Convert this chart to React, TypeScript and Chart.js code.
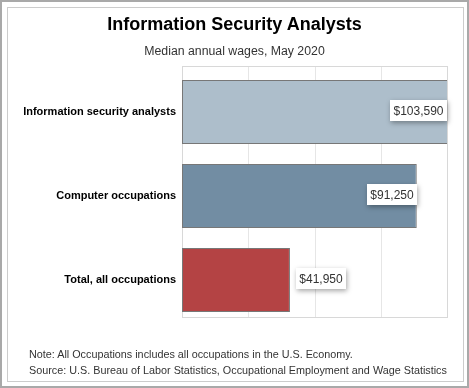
import React, { useEffect, useRef } from "react";
import { Chart, registerables } from "chart.js";

Chart.register(...registerables);

const categories = ["Information security analysts", "Computer occupations", "Total, all occupations"];
const wages = [103590, 91250, 41950];
const barColors = ["#adbecb", "#728da3", "#b44344"];
const axisMax = 103000;
const title = "Information Security Analysts";
const subtitle = "Median annual wages, May 2020";
const notes = [
  "Note: All Occupations includes all occupations in the U.S. Economy.",
  "Source: U.S. Bureau of Labor Statistics, Occupational Employment and Wage Statistics",
];

const fmt = (v: number) => "$" + v.toLocaleString("en-US");

const labelPlugin = {
  id: "valueBoxes",
  afterDatasetsDraw(chart: any) {
    const ctx = chart.ctx;
    const area = chart.chartArea;
    const meta = chart.getDatasetMeta(0);
    ctx.save();
    ctx.font = "12px 'Liberation Sans', Arial, sans-serif";
    meta.data.forEach((bar: any, i: number) => {
      const text = fmt(wages[i]);
      const tw = ctx.measureText(text).width;
      const w = Math.round(tw + 7);
      const h = 21;
      const end = Math.min(bar.x, area.right);
      let x = end + 6;
      if (x + w > area.right) x = end - w;
      const y = Math.round(bar.y - 2 - h / 2);
      ctx.save();
      ctx.shadowColor = "rgba(0,0,0,0.35)";
      ctx.shadowBlur = 5;
      ctx.shadowOffsetX = 1;
      ctx.shadowOffsetY = 2;
      ctx.fillStyle = "#ffffff";
      ctx.fillRect(Math.round(x), y, w, h);
      ctx.restore();
      ctx.fillStyle = "#333333";
      ctx.textBaseline = "middle";
      ctx.textAlign = "center";
      ctx.fillText(text, Math.round(x) + w / 2, y + h / 2 + 1);
    });
    ctx.restore();
  },
};

const frame = {
  id: "plotFrame",
  beforeDatasetsDraw(chart: any) {
    const { ctx, chartArea: a } = chart;
    const xs = chart.scales.x;
    const top = Math.round(a.top) - 4;
    const bottom = Math.round(a.bottom) - 5;
    ctx.save();
    ctx.lineWidth = 1;
    ctx.strokeStyle = "#e6e6e6";
    xs.ticks.forEach((t: any) => {
      const px = Math.round(xs.getPixelForValue(t.value)) + 0.5;
      ctx.beginPath();
      ctx.moveTo(px, top);
      ctx.lineTo(px, bottom);
      ctx.stroke();
    });
    ctx.strokeStyle = "#d8d8d8";
    ctx.strokeRect(Math.round(a.left) + 0.5, top + 0.5, Math.round(a.right - a.left), bottom - top);
    ctx.restore();
  },
};

export default function App() {
  const ref = useRef<HTMLCanvasElement>(null);
  useEffect(() => {
    const chart = new Chart(ref.current!, {
      type: "bar",
      data: {
        labels: categories,
        datasets: [
          {
            data: wages,
            backgroundColor: barColors,
            borderColor: "#777777",
            borderWidth: 1,
            borderSkipped: false,
            categoryPercentage: 1,
            barPercentage: 0.762,
          },
        ],
      },
      options: {
        indexAxis: "y",
        animation: false,
        responsive: false,
        maintainAspectRatio: false,
        layout: { padding: { left: 8, right: 22, top: 70, bottom: 66 } },
        plugins: { legend: { display: false }, tooltip: { enabled: false } },
        scales: {
          x: {
            min: 0,
            max: axisMax,
            ticks: { display: false, stepSize: axisMax / 4 },
            grid: { display: false, drawTicks: false },
            border: { display: false },
            afterFit: (s: any) => {
              s.height = 0;
            },
          },
          y: {
            ticks: {
              color: "#000000",
              padding: 6,
              font: { family: "'Liberation Sans', Arial, sans-serif", size: 11, weight: "bold" },
            },
            grid: { display: false, drawTicks: false },
            border: { display: false },
            afterFit: (s: any) => {
              s.width = 174;
            },
          },
        },
      },
      plugins: [frame, labelPlugin],
    } as any);
    return () => chart.destroy();
  }, []);

  return (
    <div style={{ position: "absolute", left: 0, top: 0, width: 469, height: 388, boxSizing: "border-box", border: "2px solid #a9a9a9", background: "#fff" }}>
      <div style={{ position: "absolute", left: 5, top: 5, width: 457, height: 375, boxSizing: "border-box", border: "1px solid #cccccc" }} />
      <canvas ref={ref} width={469} height={388} style={{ position: "absolute", left: -2, top: -2, width: 469, height: 388 }} />
      <div style={{ position: "absolute", left: -2, top: 12, width: 469, textAlign: "center", font: "bold 18px 'Liberation Sans', Arial, sans-serif", color: "#000" }}>{title}</div>
      <div style={{ position: "absolute", left: -2, top: 42, width: 469, textAlign: "center", font: "12.3px 'Liberation Sans', Arial, sans-serif", color: "#333" }}>{subtitle}</div>
      <div style={{ position: "absolute", left: 27, top: 344, font: "10.8px 'Liberation Sans', Arial, sans-serif", color: "#333", lineHeight: "16px", whiteSpace: "nowrap" }}>
        {notes.map((n) => (
          <div key={n}>{n}</div>
        ))}
      </div>
    </div>
  );
}
